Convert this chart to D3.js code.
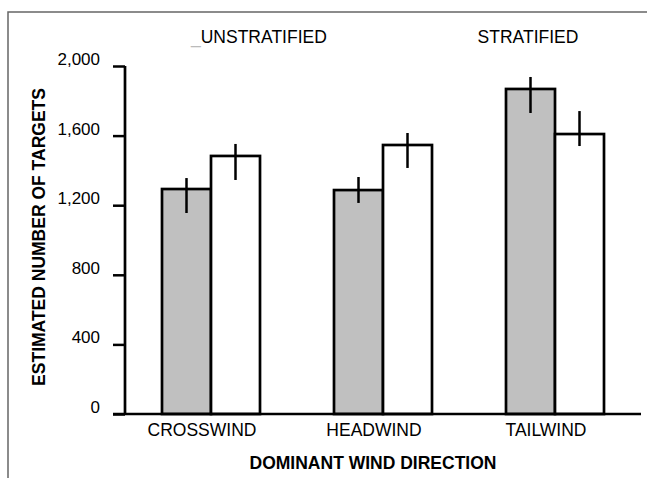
<!DOCTYPE html>
<html>
<head>
<meta charset="utf-8">
<script src="https://cdn.jsdelivr.net/npm/d3@7"></script>
<style>
  body { margin: 0; background: #fff; }
  svg text { font-family: "Liberation Sans", Arial, sans-serif; fill: #000; }
</style>
</head>
<body>
<svg id="chart" width="647" height="478"></svg>
<script>
// data
const directions = ["CROSSWIND", "HEADWIND", "TAILWIND"];
const seriesNames = ["UNSTRATIFIED", "STRATIFIED"];
const unstratified = [1293, 1287, 1868];
const unstratifiedLow = [1155, 1213, 1730];
const unstratifiedHigh = [1356, 1362, 1937];
const stratified = [1483, 1546, 1609];
const stratifiedLow = [1345, 1414, 1540];
const stratifiedHigh = [1552, 1615, 1741];
const yTicks = [0, 400, 800, 1200, 1600, 2000];

const svg = d3.select("#chart");
const width = 647, height = 478;

// frame (top + left only, like the scan)
svg.append("path")
  .attr("d", `M8,${height} V12 H${width}`)
  .attr("fill", "none")
  .attr("stroke", "#666")
  .attr("stroke-width", 1.5);

const y = d3.scaleLinear().domain([0, 2000]).range([414, 66]);
const x0 = d3.scaleBand().domain(directions).range([125, 641]);
const pairW = 49;
const x1 = d3.scaleBand().domain(seriesNames)
  .range([x0.bandwidth() / 2 - pairW, x0.bandwidth() / 2 + pairW]);

// build rows from the arrays
const rows = [];
directions.forEach((d, i) => {
  rows.push({ dir: d, s: "UNSTRATIFIED", v: unstratified[i], lo: unstratifiedLow[i], hi: unstratifiedHigh[i] });
  rows.push({ dir: d, s: "STRATIFIED", v: stratified[i], lo: stratifiedLow[i], hi: stratifiedHigh[i] });
});
const fill = { UNSTRATIFIED: "#c0c0c0", STRATIFIED: "#fff" };

// bars
svg.append("g")
  .selectAll("rect")
  .data(rows)
  .enter()
  .append("rect")
  .attr("x", d => x0(d.dir) + x1(d.s))
  .attr("y", d => y(d.v))
  .attr("width", x1.bandwidth())
  .attr("height", d => y(0) - y(d.v))
  .attr("fill", d => fill[d.s])
  .attr("stroke", "#000")
  .attr("stroke-width", 2.7);

// error bars
svg.append("g")
  .selectAll("line")
  .data(rows)
  .enter()
  .append("line")
  .attr("x1", d => x0(d.dir) + x1(d.s) + x1.bandwidth() / 2)
  .attr("x2", d => x0(d.dir) + x1(d.s) + x1.bandwidth() / 2)
  .attr("y1", d => y(d.lo))
  .attr("y2", d => y(d.hi))
  .attr("stroke", "#000")
  .attr("stroke-width", 2.5);

// y axis
const yAxis = svg.append("g")
  .attr("transform", "translate(125,0)")
  .call(d3.axisLeft(y).tickValues(yTicks).tickSize(12).tickPadding(13).tickFormat(d3.format(",")));
yAxis.select(".domain").attr("stroke", "#000").attr("stroke-width", 2.7).attr("d", `M0,${y(2000)}V${y(0)}`);
yAxis.selectAll(".tick line").attr("stroke", "#000").attr("stroke-width", 2.5);
yAxis.selectAll(".tick text")
  .attr("font-size", 17)
  .attr("font-family", "Liberation Sans, Arial, sans-serif")
  .attr("dy", "-0.09em");

// x axis baseline
svg.append("line")
  .attr("x1", 113).attr("x2", 641)
  .attr("y1", y(0)).attr("y2", y(0))
  .attr("stroke", "#000")
  .attr("stroke-width", 2.7);

// category labels
svg.append("g")
  .selectAll("text")
  .data(directions)
  .enter()
  .append("text")
  .attr("x", d => x0(d) + x0.bandwidth() / 2 - 9)
  .attr("y", 436)
  .attr("text-anchor", "middle")
  .attr("font-size", 17.5)
  .text(d => d);

// headings above the plot
const h1 = svg.append("text")
  .attr("x", 191)
  .attr("y", 43)
  .attr("font-size", 17.5);
h1.append("tspan").attr("fill", "#bbb").style("fill", "#bbb").text("_");
h1.append("tspan").text(seriesNames[0]);

svg.append("text")
  .attr("x", 528)
  .attr("y", 43)
  .attr("text-anchor", "middle")
  .attr("font-size", 17.5)
  .text(seriesNames[1]);

// axis titles
svg.append("text")
  .attr("transform", "translate(45,237) rotate(-90)")
  .attr("text-anchor", "middle")
  .attr("font-size", 17.5)
  .attr("font-weight", "bold")
  .text("ESTIMATED NUMBER OF TARGETS");

svg.append("text")
  .attr("x", 373)
  .attr("y", 469)
  .attr("text-anchor", "middle")
  .attr("font-size", 17.5)
  .attr("font-weight", "bold")
  .text("DOMINANT WIND DIRECTION");
</script>
</body>
</html>
